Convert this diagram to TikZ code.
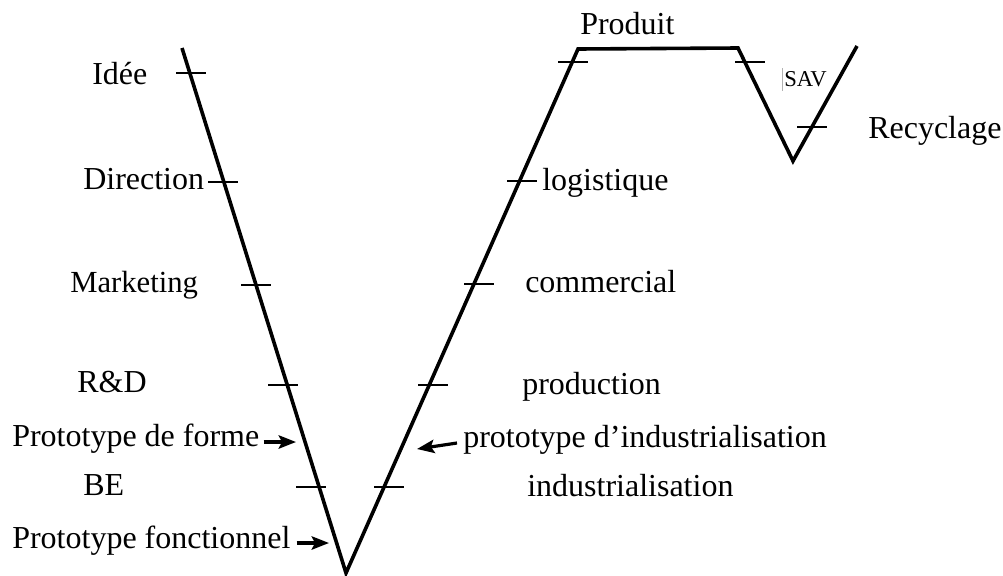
\documentclass[tikz,border=0pt]{standalone}
\usepackage{fontspec}
\setmainfont{Liberation Serif}
\usetikzlibrary{arrows.meta}
\begin{document}
\begin{tikzpicture}[x=0.75pt,y=-0.75pt,
  vline/.style={line width=2.7pt,line join=miter},
  tickline/.style={line width=2.2pt},
  lbl/.style={font=\fontsize{24}{28}\selectfont,anchor=mid west,inner sep=0pt},
  arr/.style={line width=2.4pt,-{Stealth[length=13pt,width=10pt,inset=2.5pt]}}]
\useasboundingbox (0,0) rectangle (1003,575);
% V path corners
\coordinate (A) at (182,48);
\coordinate (B) at (346,573);
\coordinate (C) at (578,49);
\coordinate (D) at (738,48);
\coordinate (E) at (793,161);
\coordinate (F) at (857,46);
\draw[vline] (A) -- (B) -- (C) -- (D) -- (E) -- (F);
% tick centres
\coordinate (tIdee) at (191,73);
\coordinate (tDir) at (223,182);
\coordinate (tMkt) at (256,285);
\coordinate (tRD) at (283,385);
\coordinate (tBE) at (311,487);
\coordinate (tInd) at (389,487);
\coordinate (tProd) at (433,385);
\coordinate (tCom) at (479,284);
\coordinate (tLog) at (522,181);
\coordinate (tTop) at (573,62);
\coordinate (tSav) at (750,62);
\coordinate (tRec) at (812,127);
\foreach \t in {tIdee,tDir,tMkt,tRD,tBE,tInd,tProd,tCom,tLog,tTop,tSav,tRec}
  \draw[tickline] (\t) ++(-15,0) -- ++(30,0);
% left labels
\node[lbl] (idee) at (92,81) {Idée};
\node[lbl] (dir) at (83,186) {Direction};
\node[lbl,font=\fontsize{23}{27}\selectfont] (mkt) at (70,289) {Marketing};
\node[lbl] (rd) at (77,389) {R\&D};
\node[lbl] (pforme) at (12,443) {Prototype de forme};
\node[lbl] (be) at (83,492) {BE};
\node[lbl] (pfonc) at (12,545) {Prototype fonctionnel};
\coordinate (pformeTip) at (296,442);
\coordinate (pfoncTip) at (329,543);
\draw[arr] (pforme.east |- pformeTip) ++(4,0) -- (pformeTip);
\draw[arr] (pfonc.east |- pfoncTip) ++(6,0) -- (pfoncTip);
% right labels
\node[lbl] (log) at (542,187) {logistique};
\node[lbl] (com) at (525,289) {commercial};
\node[lbl] (prod) at (522,391) {production};
\node[lbl] (pind) at (463,444) {prototype d’industrialisation};
\node[lbl] (ind) at (527,493) {industrialisation};
\coordinate (pindTip) at (417,449);
\draw[arr] (pind.west |- 0,443) ++(-6,0) -- (pindTip);
% top labels
\node[lbl] (produit) at (580,31) {Produit};
\node[lbl,font=\fontsize{17}{20}\selectfont] (sav) at (784,83) {SAV};
\draw[gray!60,line width=0.6pt] (782,68) -- (782,91);
\node[lbl] (recy) at (868,135) {Recyclage};
\end{tikzpicture}
\end{document}
